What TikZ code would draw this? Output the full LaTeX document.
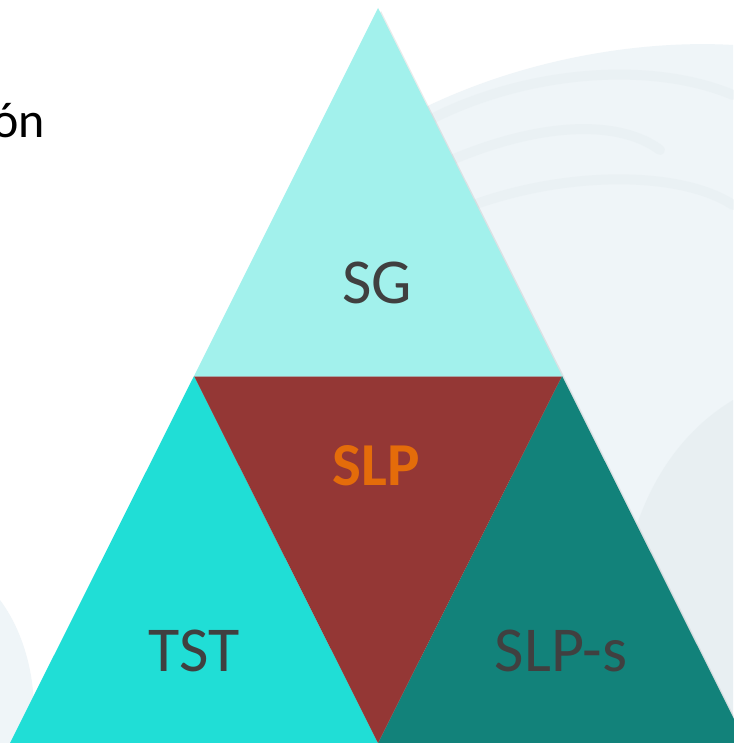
\documentclass[tikz,border=0pt]{standalone}
\usepackage{fontspec}
\setmainfont{Carlito}
\definecolor{topc}{HTML}{A2F1EC}
\definecolor{leftc}{HTML}{20DED6}
\definecolor{rightc}{HTML}{12827A}
\definecolor{midc}{HTML}{943735}
\definecolor{txtc}{HTML}{404040}
\definecolor{orng}{HTML}{E46C0A}
\definecolor{bgc}{HTML}{EFF5F8}
\definecolor{bgd}{HTML}{E2EBEE}
\tikzset{
  lbl/.style={text=txtc, font=\fontsize{64}{70}\selectfont, inner sep=0pt, anchor=base},
  face/.style={draw=none},
  arcline/.style={draw=bgd, line width=10pt, line cap=round, opacity=0.35}
}
\begin{document}
\begin{tikzpicture}[x=1pt,y=-1pt]
\useasboundingbox (0,0) rectangle (733,743);
\fill[white] (0,0) rectangle (733,743);
% background swirl
\fill[bgc] (400,120) .. controls (520,55) and (650,40) .. (733,45) -- (733,743) -- (380,743) -- cycle;
\draw[arcline] (420,125) .. controls (520,70) and (650,60) .. (733,95);
\draw[arcline] (440,165) .. controls (540,120) and (620,120) .. (660,150);
\draw[arcline] (460,210) .. controls (560,170) and (680,170) .. (733,205);
\fill[bgd, opacity=0.5] (733,400) .. controls (650,450) and (600,560) .. (620,743) -- (733,743) -- cycle;
\fill[bgc] (0,600) .. controls (30,640) and (40,700) .. (30,743) -- (0,743) -- cycle;
% coordinates
\coordinate (apex) at (378,8);
\coordinate (ml) at (194,376);
\coordinate (mr) at (562,376);
\coordinate (bl) at (10,743);
\coordinate (bm) at (378,743);
\coordinate (br) at (746,743);
% shadow
\fill[black, opacity=0.08] ([shift={(3,3)}]apex) -- ([shift={(3,3)}]br) -- ([shift={(3,3)}]bl) -- cycle;
% faces
\fill[face, topc] (apex) -- (mr) -- (ml) -- cycle;
\fill[face, leftc] (ml) -- (bm) -- (bl) -- cycle;
\fill[face, rightc] (mr) -- (br) -- (bm) -- cycle;
\fill[face, midc] (ml) -- (mr) -- (bm) -- cycle;
\draw[gray!70, line width=0.8pt] (ml) -- (mr);
% labels
\node[lbl] (sg) at (377,303) {SG};
\node[lbl] (tst) at (194,671) {TST};
\node[lbl] (slps) at (561,671) {SLP-s};
\node[lbl, text=orng, font=\fontsize{61}{66}\selectfont\bfseries] (slp) at (376,485) {SLP};
\node[text=black, font=\fontsize{50}{56}\selectfont, inner sep=0pt, anchor=base east] (on) at (45,138) {ón};
\end{tikzpicture}
\end{document}
